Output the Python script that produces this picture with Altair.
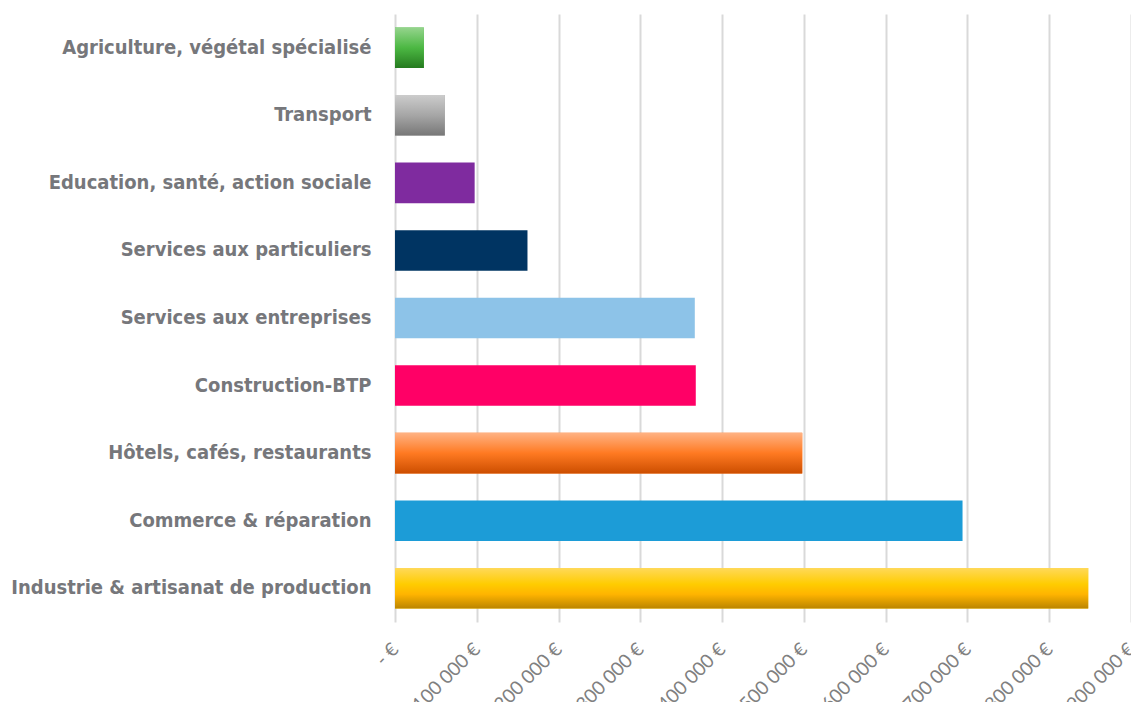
import altair as alt
import pandas as pd

categories = [
    "Agriculture, végétal spécialisé",
    "Transport",
    "Education, santé, action sociale",
    "Services aux particuliers",
    "Services aux entreprises",
    "Construction-BTP",
    "Hôtels, cafés, restaurants",
    "Commerce & réparation",
    "Industrie & artisanat de production",
]
values = [35300, 60900, 97400, 162000, 366600, 367800, 498000, 694000, 847700]
solid_colors = ["#4cb843", "#a0a0a0", "#7f2b9f", "#003462", "#8dc3e8",
                "#ff0066", "#ff7a22", "#1c9cd7", "#ffcc00"]

df = pd.DataFrame({"cat": categories, "val": values})

gradients = {
    "Agriculture, végétal spécialisé": [("#95d48d", 0), ("#4cb843", 0.5), ("#257a1f", 1)],
    "Transport": [("#cccccc", 0), ("#a6a6a6", 0.5), ("#777777", 1)],
    "Hôtels, cafés, restaurants": [("#ffb283", 0), ("#ff7a22", 0.5), ("#cc4e00", 1)],
    "Industrie & artisanat de production": [("#ffd95a", 0), ("#ffcc00", 0.4), ("#ffb400", 0.65), ("#bb8500", 1)],
}

y_enc = alt.Y("cat:N", sort=categories, title=None,
              scale=alt.Scale(paddingInner=0.4, paddingOuter=0.2),
              axis=alt.Axis(labelFont="DejaVu Sans Condensed", labelFontWeight="bold",
                            labelFontSize=20, labelColor="#76777b", labelPadding=24,
                            labelLimit=420, ticks=False, domain=False, grid=False))
x_enc = alt.X("val:Q", title=None,
              scale=alt.Scale(domain=[0, 900000], nice=False),
              axis=alt.Axis(values=[0, 100000, 200000, 300000, 400000, 500000, 600000, 700000, 800000, 900000],
                            labelExpr="datum.value == 0 ? '-   €' : replace(format(datum.value, ','), ',', ' ') + ' €'",
                            labelAngle=-45, labelAlign="right", labelBaseline="middle",
                            labelFont="Lato", labelFontSize=19, labelColor="#808080",
                            labelPadding=24, ticks=False, domain=False,
                            grid=True, gridColor="#d9d9d9", gridWidth=2))

base = alt.Chart(df).mark_bar().encode(
    y=y_enc, x=x_enc,
    color=alt.Color("cat:N", scale=alt.Scale(domain=categories, range=solid_colors), legend=None),
)

layers = [base]
for cat, stops in gradients.items():
    layers.append(
        alt.Chart(df).transform_filter(alt.datum.cat == cat).mark_bar(
            fill=alt.Gradient(gradient="linear", x1=0, x2=0, y1=0, y2=1,
                              stops=[alt.GradientStop(color=c, offset=o) for c, o in stops])
        ).encode(y=alt.Y("cat:N", sort=categories), x=alt.X("val:Q"))
    )

chart = alt.layer(*layers).properties(
    width=736, height=608,
    autosize=alt.AutoSizeParams(type="none"),
    padding={"left": 387, "top": 6, "right": 0, "bottom": 80},
).configure_view(stroke=None)

chart.save("out.html", embed_options={"renderer": "svg", "actions": False})
